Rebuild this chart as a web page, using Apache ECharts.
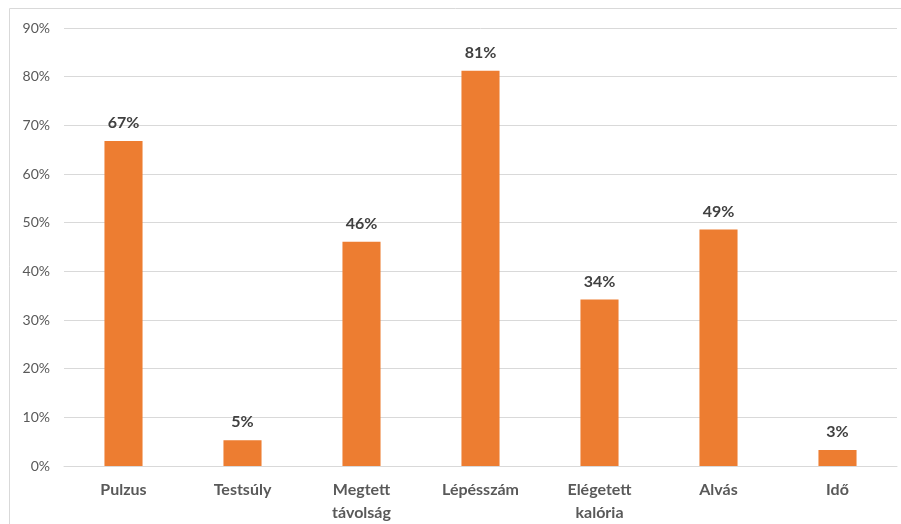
<!DOCTYPE html>
<html>
<head>
<meta charset="utf-8">
<script src="https://cdn.jsdelivr.net/npm/echarts@6/dist/echarts.min.js"></script>
<style>
html,body{margin:0;padding:0;background:#fff;}
#c{width:901px;height:524px;}
</style>
</head>
<body>
<div id="c"></div>
<script>
const categories = ['Pulzus', 'Testsúly', 'Megtett\ntávolság', 'Lépésszám', 'Elégetett\nkalória', 'Alvás', 'Idő'];
const values = [0.668, 0.053, 0.461, 0.812, 0.342, 0.486, 0.033];
const yTicks = [0, 0.1, 0.2, 0.3, 0.4, 0.5, 0.6, 0.7, 0.8, 0.9];

const chart = echarts.init(document.getElementById('c'));
chart.setOption({
  animation: false,
  graphic: [{
    type: 'rect',
    shape: {x: 9.5, y: 8.5, width: 1000, height: 1000},
    style: {fill: 'none', stroke: '#d9d9d9', lineWidth: 1},
    silent: true
  }],
  grid: {left: 64, right: 4, top: 28, bottom: 58},
  xAxis: {
    type: 'category',
    data: categories,
    axisLine: {show: true, lineStyle: {color: '#d9d9d9', width: 1}},
    axisTick: {show: false},
    axisLabel: {
      interval: 0,
      margin: 12,
      color: '#595959',
      fontFamily: 'Lato, "Open Sans", sans-serif',
      fontWeight: 'bold',
      fontSize: 16,
      lineHeight: 23
    }
  },
  yAxis: {
    type: 'value',
    min: yTicks[0],
    max: yTicks[yTicks.length - 1],
    interval: 0.1,
    axisLine: {show: false},
    axisTick: {show: false},
    splitLine: {lineStyle: {color: '#d9d9d9', width: 1}},
    axisLabel: {
      margin: 14,
      color: '#595959',
      fontFamily: 'Lato, "Open Sans", sans-serif',
      fontSize: 14,
      formatter: v => Math.round(v * 100) + '%'
    }
  },
  series: [{
    type: 'bar',
    data: values,
    barWidth: '32%',
    itemStyle: {color: '#ED7D31'},
    label: {
      show: true,
      position: 'top',
      distance: 10,
      color: '#404040',
      fontFamily: 'Lato, "Open Sans", sans-serif',
      fontWeight: 'bold',
      fontSize: 16,
      formatter: p => Math.round(p.value * 100) + '%'
    }
  }]
});
</script>
</body>
</html>
